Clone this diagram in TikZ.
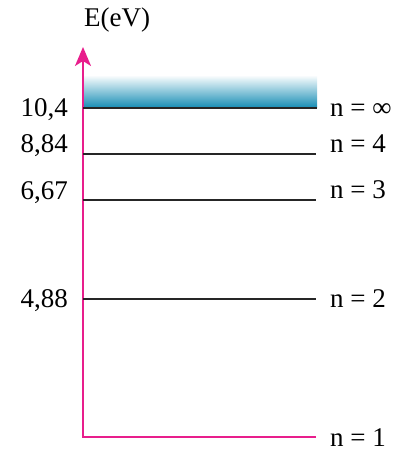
\documentclass[tikz,border=0pt]{standalone}
\usepackage{fontspec}
\setmainfont{Liberation Serif}
\usetikzlibrary{arrows.meta}
\definecolor{axispink}{RGB}{232,30,140}
\definecolor{bandteal}{RGB}{20,140,180}
\begin{document}
\begin{tikzpicture}[x=1pt,y=-1pt,
  level/.style={line width=1.3pt,black!85},
  lbl/.style={font=\fontsize{27}{30}\selectfont,inner sep=0pt},
  axisline/.style={axispink,line width=2pt}]
\useasboundingbox (0,0) rectangle (409,454);
\shade[top color=white,bottom color=bandteal] (83,75) rectangle (317,108);
\coordinate (o) at (83,437);
\coordinate (top) at (83,47);
\coordinate (e1) at (316,437);
\draw[axisline,-{Stealth[length=19pt,width=16pt,inset=5pt]}] (e1) -- (o) -- (top);
\coordinate (ainf) at (83,108); \coordinate (binf) at (317,108);
\coordinate (a4) at (83,154); \coordinate (b4) at (316,154);
\coordinate (a3) at (83,200); \coordinate (b3) at (316,200);
\coordinate (a2) at (83,299); \coordinate (b2) at (316,299);
\draw[level] (ainf) -- (binf);
\draw[level] (a4) -- (b4);
\draw[level] (a3) -- (b3);
\draw[level] (a2) -- (b2);
\node[lbl,anchor=base west] (ey) at (84,27) {E(eV)};
\node[lbl,anchor=base east] (v1) at (68,117) {10,4};
\node[lbl,anchor=base east] (v2) at (68,153) {8,84};
\node[lbl,anchor=base east] (v3) at (68,200) {6,67};
\node[lbl,anchor=base east] (v4) at (68,307) {4,88};
\node[lbl,anchor=base west] (ninf) at (330,117) {n = ∞};
\node[lbl,anchor=base west] (n4) at (330,153) {n = 4};
\node[lbl,anchor=base west] (n3) at (330,198) {n = 3};
\node[lbl,anchor=base west] (n2) at (330,307) {n = 2};
\node[lbl,anchor=base west] (n1) at (330,446) {n = 1};
\end{tikzpicture}
\end{document}
